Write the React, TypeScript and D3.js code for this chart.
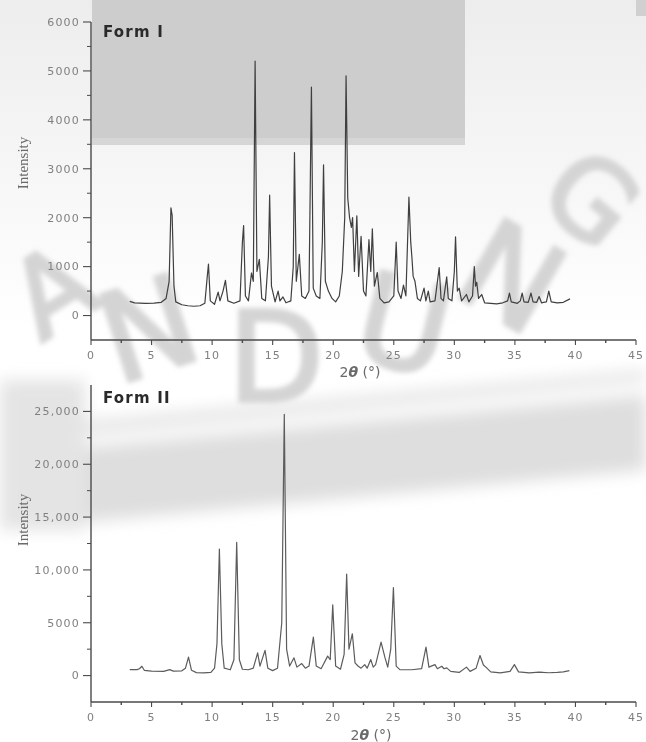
import React from "react";
import * as d3 from "d3";

// Form I pattern, vertices: [2θ, intensity]
const formOne: [number, number][] = [
  [3.2, 290], [3.6, 260], [4.5, 250], [5.2, 255], [5.8, 270], [6.2, 350], [6.45, 700],
  [6.6, 2200], [6.7, 2050], [6.85, 600], [7.0, 280], [7.5, 220], [8.0, 200], [8.5, 190],
  [9.0, 200], [9.4, 250], [9.6, 800], [9.7, 1050], [9.85, 300], [10.2, 230], [10.5, 480],
  [10.65, 300], [10.9, 500], [11.1, 720], [11.3, 300], [11.8, 250], [12.3, 300], [12.5, 1500],
  [12.6, 1840], [12.75, 400], [13.0, 300], [13.25, 870], [13.4, 700], [13.55, 5200], [13.7, 900],
  [13.9, 1150], [14.1, 350], [14.4, 300], [14.65, 1200], [14.75, 2460], [14.9, 600], [15.2, 280],
  [15.45, 500], [15.6, 300], [15.85, 380], [16.1, 260], [16.5, 300], [16.7, 1000], [16.8, 3330],
  [16.95, 700], [17.2, 1250], [17.4, 400], [17.7, 350], [18.0, 500], [18.2, 4670], [18.35, 560],
  [18.6, 400], [18.9, 350], [19.1, 1500], [19.2, 3080], [19.35, 700], [19.6, 500], [19.9, 350],
  [20.2, 280], [20.5, 400], [20.75, 900], [20.95, 2000], [21.06, 4900], [21.2, 2400], [21.35, 2000],
  [21.5, 1800], [21.6, 2000], [21.75, 900], [21.95, 2040], [22.1, 800], [22.3, 1620], [22.5, 500],
  [22.7, 400], [22.95, 1550], [23.1, 900], [23.23, 1770], [23.4, 600], [23.64, 880], [23.85, 350],
  [24.2, 260], [24.6, 280], [25.0, 400], [25.2, 1500], [25.35, 500], [25.6, 350], [25.8, 620],
  [26.0, 400], [26.25, 2420], [26.4, 1500], [26.5, 1180], [26.6, 800], [26.75, 700], [26.95, 350],
  [27.2, 300], [27.5, 560], [27.65, 300], [27.85, 500], [28.0, 280], [28.4, 300], [28.75, 980],
  [28.9, 350], [29.1, 300], [29.37, 790], [29.5, 350], [29.8, 300], [30.0, 900], [30.1, 1610],
  [30.25, 500], [30.4, 560], [30.6, 300], [31.0, 430], [31.2, 280], [31.5, 400], [31.65, 1000],
  [31.75, 600], [31.85, 680], [32.0, 350], [32.26, 430], [32.5, 260], [33.0, 250], [33.5, 240],
  [34.0, 260], [34.4, 300], [34.55, 460], [34.7, 280], [35.2, 250], [35.45, 300], [35.6, 460],
  [35.75, 280], [36.1, 270], [36.33, 460], [36.5, 280], [36.8, 270], [37.0, 390], [37.2, 260],
  [37.6, 280], [37.8, 500], [38.0, 280], [38.5, 260], [39.0, 270], [39.55, 340],
];

// Form II pattern
const formTwo: [number, number][] = [
  [3.2, 570], [3.8, 560], [4.0, 650], [4.2, 880], [4.4, 500], [5.0, 420], [6.0, 400], [6.5, 560],
  [6.8, 420], [7.5, 450], [7.8, 700], [8.05, 1740], [8.3, 500], [8.7, 280], [9.3, 250], [9.9, 300],
  [10.2, 700], [10.4, 3000], [10.6, 11980], [10.8, 3000], [11.0, 700], [11.5, 550], [11.8, 1500],
  [12.03, 12610], [12.25, 1500], [12.5, 600], [13.0, 550], [13.4, 700], [13.76, 2150], [13.95, 900],
  [14.37, 2380], [14.6, 700], [15.0, 470], [15.4, 700], [15.75, 5000], [15.96, 24730], [16.15, 2500],
  [16.4, 900], [16.76, 1680], [17.0, 800], [17.4, 1140], [17.7, 700], [18.0, 900], [18.36, 3640],
  [18.6, 900], [19.0, 650], [19.54, 1840], [19.75, 1500], [19.96, 6690], [20.2, 900], [20.6, 600],
  [20.9, 2000], [21.11, 9600], [21.3, 2500], [21.58, 3960], [21.8, 1200], [22.07, 880], [22.3, 700],
  [22.6, 1040], [22.8, 700], [23.1, 1520], [23.3, 800], [23.5, 1040], [23.95, 3170], [24.28, 1670],
  [24.5, 800], [24.75, 2500], [24.97, 8330], [25.2, 900], [25.5, 570], [26.5, 550], [27.3, 650],
  [27.66, 2690], [27.9, 800], [28.4, 1040], [28.6, 650], [28.96, 880], [29.15, 650], [29.37, 730],
  [29.7, 400], [30.4, 300], [31.0, 800], [31.3, 400], [31.8, 700], [32.12, 1900], [32.4, 1000],
  [32.67, 730], [33.0, 350], [33.8, 250], [34.6, 400], [34.96, 1040], [35.3, 350], [36.2, 250],
  [37.0, 320], [37.8, 270], [38.5, 300], [39.0, 350], [39.5, 470],
];

const xTicks = [0, 5, 10, 15, 20, 25, 30, 35, 40, 45];
const formOneYTicks = [0, 1000, 2000, 3000, 4000, 5000, 6000];
const formOneYLabels = ["0", "1000", "2000", "3000", "4000", "5000", "6000"];
const formTwoYTicks = [0, 5000, 10000, 15000, 20000, 25000];
const formTwoYLabels = ["0", "5000", "10,000", "15,000", "20,000", "25,000"];

// watermark letters
const markLetters = ["A", "N", "D", "U", "N", "G"];
const markX = [52, 148, 276, 404, 512, 592];
const markY = [290, 328, 356, 324, 276, 198];
const markAngle = [-32, -18, 0, 14, 30, 40];
const markSize = [108, 124, 124, 124, 124, 108];

const FONT = "'DejaVu Sans', Arial, sans-serif";

type PanelProps = {
  data: [number, number][];
  yDomain: [number, number];
  top: number;
  bottom: number;
  yTicks: number[];
  yLabels: string[];
  yMinor: number;
  title: string;
  titleY: number;
  axisTitleX: number;
  axisTitleY: number;
  labelY: number;
  stroke: string;
};

function Panel(p: PanelProps) {
  const x = d3.scaleLinear().domain([0, 45]).range([91, 636]);
  const y = d3.scaleLinear().domain(p.yDomain).range([p.bottom, p.top]);
  const line = d3.line<[number, number]>().x(d => x(d[0])).y(d => y(d[1]));
  const xMinor = d3.range(2.5, 45, 5);
  const yMinor = d3.range(p.yMinor, p.yDomain[1], p.yMinor * 2);
  const axisColor = "#4a4a4a";

  return (
    <g>
      <path d={line(p.data) || ""} fill="none" stroke={p.stroke} strokeWidth={1.2} strokeLinejoin="round" />
      {/* y axis */}
      <line x1={x(0)} x2={x(0)} y1={y(p.yDomain[1])} y2={p.bottom} stroke={axisColor} strokeWidth={1.4} />
      {p.yTicks.map((t, i) => (
        <g key={t}>
          <line x1={x(0) - 8} x2={x(0)} y1={y(t)} y2={y(t)} stroke={axisColor} strokeWidth={1.1} />
          <text x={80} y={y(t)} dy="0.35em" textAnchor="end" fontSize={11} letterSpacing={1.2}
            fill="#808080" fontFamily={FONT}>{p.yLabels[i]}</text>
        </g>
      ))}
      {yMinor.map(t => (
        <line key={t} x1={x(0) - 4} x2={x(0)} y1={y(t)} y2={y(t)} stroke={axisColor} strokeWidth={1} />
      ))}
      {/* x axis */}
      <line x1={x(0)} x2={x(45)} y1={p.bottom} y2={p.bottom} stroke={axisColor} strokeWidth={1.4} />
      {xTicks.map(t => (
        <g key={t}>
          <line x1={x(t)} x2={x(t)} y1={p.bottom} y2={p.bottom + 5} stroke={axisColor} strokeWidth={1.1} />
          <text x={x(t)} y={p.bottom + 19} textAnchor="middle" fontSize={11} letterSpacing={1}
            fill="#808080" fontFamily={FONT}>{t}</text>
        </g>
      ))}
      {xMinor.map(t => (
        <line key={t} x1={x(t)} x2={x(t)} y1={p.bottom} y2={p.bottom + 3} stroke={axisColor} strokeWidth={1.4} />
      ))}
      <text x={103} y={p.titleY} fontSize={15} fontWeight="bold" letterSpacing={1.2}
        fill="#2a2a2a" fontFamily={FONT}>{p.title}</text>
      <text x={p.axisTitleX} y={p.axisTitleY} textAnchor="middle" fontSize={14}
        fill="#6a6a6a" fontFamily={FONT}>
        2<tspan fontStyle="italic" fontWeight="bold">θ</tspan> (°)
      </text>
      <text transform={`translate(28,${p.labelY}) rotate(-90)`} textAnchor="middle" fontSize={15}
        fill="#6a6a6a" fontFamily="'Liberation Serif', 'Times New Roman', serif">Intensity</text>
    </g>
  );
}

export default function App() {
  return (
    <svg width={646} height={742} style={{ position: "absolute", left: 0, top: 0, background: "#fff" }}>
      <defs>
        <linearGradient id="bg" x1="0" y1="0" x2="0" y2="1">
          <stop offset="0" stopColor="#ededed" />
          <stop offset="1" stopColor="#ffffff" />
        </linearGradient>
        <filter id="blur" x="-20%" y="-20%" width="140%" height="140%">
          <feGaussianBlur stdDeviation="2.5" />
        </filter>
        <filter id="blurWide" x="-20%" y="-50%" width="140%" height="200%">
          <feGaussianBlur stdDeviation="8" />
        </filter>
      </defs>
      <rect x={0} y={0} width={646} height={330} fill="url(#bg)" />
      <rect x={92} y={0} width={373} height={140} fill="#cdcdcd" />
      <rect x={92} y={138} width={373} height={7} fill="#d6d6d6" />
      <rect x={636} y={0} width={10} height={16} fill="#d0d0d0" />
      {/* banded watermark across lower panel */}
      <g filter="url(#blurWide)">
        <polygon points="0,455 646,395 646,470 0,530" fill="#dedede" />
        <polygon points="0,428 646,370 646,382 0,444" fill="#e6e6e6" />
        <rect x={0} y={380} width={85} height={150} fill="#e4e4e4" />
      </g>
      <g filter="url(#blur)">
        {markLetters.map((c, i) => (
          <text key={i} transform={`translate(${markX[i]},${markY[i]}) rotate(${markAngle[i]})`}
            textAnchor="middle" dy="0.36em" fontSize={markSize[i]} fill="#d4d4d4" stroke="#d4d4d4"
            strokeWidth={4} fontFamily={FONT}>{c}</text>
        ))}
      </g>
      <Panel data={formOne} yDomain={[-500, 6000]} top={22} bottom={340} yTicks={formOneYTicks}
        yLabels={formOneYLabels} yMinor={500} title="Form I" titleY={37} axisTitleX={360}
        axisTitleY={377} labelY={163} stroke="#3f3f3f" />
      <Panel data={formTwo} yDomain={[-2500, 27500]} top={385} bottom={702} yTicks={formTwoYTicks}
        yLabels={formTwoYLabels} yMinor={2500} title="Form II" titleY={403} axisTitleX={371}
        axisTitleY={740} labelY={520} stroke="#5c5c5c" />
    </svg>
  );
}
